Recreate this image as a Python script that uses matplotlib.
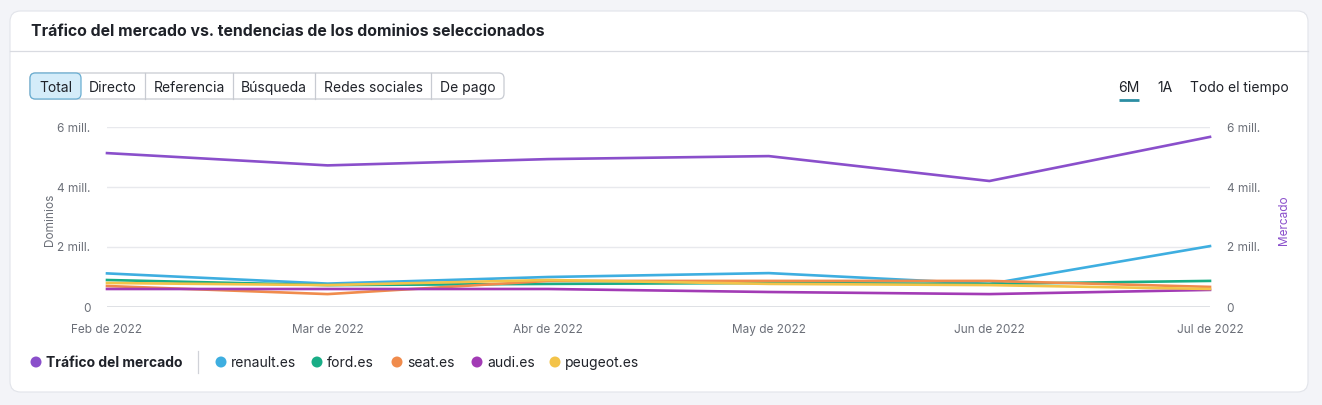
import matplotlib
matplotlib.use("Agg")
import matplotlib.pyplot as plt
from matplotlib.patches import FancyBboxPatch, Ellipse
from matplotlib.lines import Line2D

plt.rcParams['font.family'] = ['Inter', 'DejaVu Sans']

# ---------------- data ----------------
months = ["Feb de 2022", "Mar de 2022", "Abr de 2022", "May de 2022", "Jun de 2022", "Jul de 2022"]
market = [5.13e6, 4.72e6, 4.93e6, 5.03e6, 4.20e6, 5.67e6]
renault = [1.12e6, 0.78e6, 1.00e6, 1.13e6, 0.77e6, 2.03e6]
ford = [0.90e6, 0.73e6, 0.77e6, 0.80e6, 0.77e6, 0.87e6]
seat = [0.70e6, 0.43e6, 0.87e6, 0.87e6, 0.87e6, 0.67e6]
audi = [0.60e6, 0.60e6, 0.60e6, 0.50e6, 0.43e6, 0.57e6]
peugeot = [0.80e6, 0.73e6, 0.90e6, 0.77e6, 0.73e6, 0.60e6]
y_ticks = [0, 2e6, 4e6, 6e6]
y_tick_labels = ["0", "2 mill.", "4 mill.", "6 mill."]
tabs = ["Total", "Directo", "Referencia", "Búsqueda", "Redes sociales", "De pago"]
periods = ["6M", "1A", "Todo el tiempo"]

domains = [("renault.es", renault, "#3eaee0"),
           ("ford.es", ford, "#19ad86"),
           ("seat.es", seat, "#f08b4c"),
           ("audi.es", audi, "#a23bb5"),
           ("peugeot.es", peugeot, "#f3c349")]
market_color = "#8a4fcb"

W, H = 1322, 405
fig = plt.figure(figsize=(W / 100, H / 100), dpi=100)
fig.patch.set_facecolor("#f3f4f8")

def fx(x):
    return x / W

def fy(y):
    return 1 - y / H

# card
card = FancyBboxPatch((fx(10), fy(392)), fx(1298), 381 / H,
                      boxstyle="round,pad=0,rounding_size=0.008",
                      transform=fig.transFigure, facecolor="white",
                      edgecolor="#e2e4ea", linewidth=0.8, mutation_aspect=W / H, zorder=-10)
fig.patches.append(card)
fig.lines.append(Line2D([fx(10), fx(1308)], [fy(51), fy(51)], transform=fig.transFigure,
                        color="#d9dbe1", linewidth=0.9, zorder=-9))
fig.text(fx(31), fy(36), "Tráfico del mercado vs. tendencias de los dominios seleccionados",
         fontsize=11.4, fontweight="bold", color="#1f2229", va="baseline", ha="left")

# tab buttons
edges = [30, 81, 145, 233, 315, 431, 504]
ty0, ty1 = 73, 99
outer = FancyBboxPatch((fx(30), fy(ty1)), fx(474), (ty1 - ty0) / H,
                       boxstyle="round,pad=0,rounding_size=0.004",
                       transform=fig.transFigure, facecolor="white",
                       edgecolor="#c8cbd2", linewidth=0.9, mutation_aspect=W / H, zorder=1)
fig.patches.append(outer)
sel = FancyBboxPatch((fx(30), fy(ty1)), fx(51), (ty1 - ty0) / H,
                     boxstyle="round,pad=0,rounding_size=0.004",
                     transform=fig.transFigure, facecolor="#d4ecf9",
                     edgecolor="#6aaed2", linewidth=0.9, mutation_aspect=W / H, zorder=2)
fig.patches.append(sel)
for e in edges[2:-1]:
    fig.lines.append(Line2D([fx(e), fx(e)], [fy(ty1), fy(ty0)], transform=fig.transFigure,
                            color="#c8cbd2", linewidth=0.9, zorder=2))
for i, t in enumerate(tabs):
    cx = (edges[i] + edges[i + 1]) / 2
    fig.text(fx(cx), fy(92), t, fontsize=10, color="#1f2229", ha="center", va="baseline", zorder=3)

# period selector
fig.text(fx(1129), fy(92), periods[0], fontsize=10, color="#1f2229", ha="center", va="baseline")
fig.text(fx(1165), fy(92), periods[1], fontsize=10, color="#1f2229", ha="center", va="baseline")
fig.text(fx(1190), fy(92), periods[2], fontsize=10, color="#1f2229", ha="left", va="baseline")
fig.lines.append(Line2D([fx(1119), fx(1139)], [fy(100), fy(100)], transform=fig.transFigure,
                        color="#2c8ea3", linewidth=2.0, solid_capstyle="butt"))

# axes
ax = fig.add_axes([fx(107), fy(307), fx(1210 - 107), (307 - 127) / H])
ax.set_facecolor("none")
x = list(range(len(months)))
for name, vals, c in domains:
    ax.plot(x, vals, color=c, linewidth=1.9, solid_joinstyle="round", zorder=3, clip_on=False)
ax.set_xlim(0, len(months) - 1)
ax.set_ylim(0, 6e6)
ax.set_yticks(y_ticks)
ax.set_yticklabels(y_tick_labels)
ax.set_xticks(x)
ax.set_xticklabels(months)
for s in ax.spines.values():
    s.set_visible(False)
ax.tick_params(axis="both", length=0, labelsize=8.5, colors="#6b6f78")
ax.tick_params(axis="y", pad=12)
ax.tick_params(axis="x", pad=12)
ax.grid(axis="y", color="#e8e9ed", linewidth=1.0)
ax.axhline(0, color="#d8dadf", linewidth=1.2, zorder=1)

ax2 = ax.twinx()
ax2.plot(x, market, color=market_color, linewidth=1.9, solid_joinstyle="round", zorder=4, clip_on=False)
ax2.set_ylim(0, 6e6)
ax2.set_yticks(y_ticks)
ax2.set_yticklabels(y_tick_labels)
for s in ax2.spines.values():
    s.set_visible(False)
ax2.tick_params(axis="y", length=0, labelsize=8.5, colors="#6b6f78", pad=12)

fig.text(fx(50), fy(220), "Dominios", fontsize=8.5, color="#6b6f78", rotation=90,
         ha="center", va="center")
fig.text(fx(1284), fy(220), "Mercado", fontsize=8.5, color=market_color, rotation=90,
         ha="center", va="center")

# legend
ly = fy(362)

def dot(xc, color):
    fig.patches.append(Ellipse((fx(xc), ly), 11 / W, 11 / H, transform=fig.transFigure,
                               facecolor=color, edgecolor="none"))

dot(36, market_color)
fig.text(fx(46), fy(367), "Tráfico del mercado", fontsize=10, fontweight="bold", color="#1f2229",
         ha="left", va="baseline")
fig.lines.append(Line2D([fx(198), fx(198)], [fy(351), fy(373)], transform=fig.transFigure,
                        color="#d0d2d8", linewidth=0.9))
leg_x = [221, 317, 397, 477, 555]
for (name, vals, c), lx in zip(domains, leg_x):
    dot(lx, c)
    fig.text(fx(lx + 10), fy(367), name, fontsize=10, color="#1f2229", ha="left", va="baseline")

fig.savefig("out.png", dpi=100, facecolor=fig.get_facecolor())
